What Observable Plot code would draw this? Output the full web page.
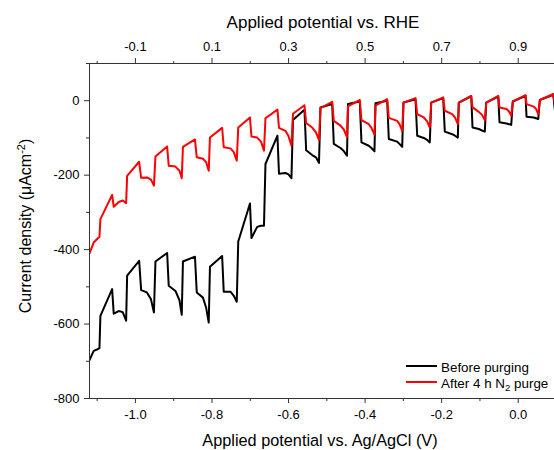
<!DOCTYPE html>
<html><head><meta charset="utf-8">
<script src="https://cdn.jsdelivr.net/npm/d3@7"></script>
<script src="https://cdn.jsdelivr.net/npm/@observablehq/plot@0.6"></script>
<style>
body{margin:0;background:#fff}
#wrap{position:relative;width:554px;height:450px;overflow:hidden;background:#fff}
#wrap svg{display:block}
#legend{position:absolute;left:0;top:0}
</style>
</head><body><div id="wrap"></div>
<script>
// Applied potential vs. Ag/AgCl (V)
const potential = [
 -1.120, -1.109, -1.0975, -1.094,
 -1.0915, -1.0609, -1.0567, -1.0436, -1.0332, -1.0243,
 -1.0217, -0.9903, -0.9851, -0.9700, -0.9595, -0.9517,
 -0.9477, -0.9172, -0.9130, -0.8955, -0.8850, -0.8790,
 -0.8759, -0.8445, -0.8398, -0.8236, -0.8153, -0.8085,
 -0.8053, -0.7735, -0.7693, -0.7518, -0.7431, -0.7353,
 -0.7314, -0.7008, -0.6969, -0.6820, -0.6720, -0.6642,
 -0.6603, -0.6290, -0.6250, -0.6080, -0.6002, -0.5924,
 -0.5885, -0.5584, -0.5540, -0.5383, -0.5284, -0.5205,
 -0.5166, -0.4860, -0.4818, -0.4643, -0.4552, -0.4473,
 -0.4447, -0.4139, -0.4095, -0.3904, -0.3834, -0.3755,
 -0.3729, -0.3423, -0.3381, -0.3162, -0.3102, -0.3031,
 -0.2997, -0.2684, -0.2639, -0.2467, -0.2383, -0.2310,
 -0.2273, -0.1960, -0.1918, -0.1725, -0.1652, -0.1578,
 -0.1552, -0.1228, -0.1194, -0.1030, -0.0946, -0.0873,
 -0.0836, -0.0522, -0.0489, -0.0306, -0.0241, -0.0183,
 -0.0141, 0.0191, 0.0217, 0.0408, 0.0465, 0.0523,
 0.0565, 0.0915, 0.0962
];
// Current density (µA cm^-2), before purging
const beforePurging = [
 -697, -672, -667, -665,
 -578, -506, -572, -565, -568, -591,
 -470, -430, -509, -515, -533, -569,
 -432, -409, -497, -511, -536, -575,
 -432, -419, -515, -529, -556, -596,
 -446, -417, -513, -513, -524, -540,
 -378, -276, -369, -339, -336, -336,
 -170, -94, -196, -194, -198, -208,
 -52, -24, -133, -146, -152, -167,
 -18, -9, -116, -127, -136, -148,
 -9, -2, -112, -121, -127, -136,
 -7, 0, -103, -110, -116, -124,
 -5, 4, -94, -100, -105, -112,
 -5, 7, -83, -90, -94, -99,
 -5, 12, -72, -76, -80, -83,
 -5, 11, -58, -61, -63, -65,
 -2, 13, -43, -45, -47, -49,
 2, 16, -30
];
// Current density (µA cm^-2), after 4 h N2 purge
const afterPurge = [
 -410, -381, -369, -366,
 -318, -253, -285, -272, -268, -275,
 -202, -164, -207, -206, -212, -228,
 -150, -123, -175, -177, -188, -208,
 -124, -104, -152, -156, -165, -188,
 -99, -73, -125, -128, -138, -161,
 -72, -45, -96, -99, -110, -134,
 -47, -24, -73, -81, -95, -121,
 -35, -12, -60, -72, -85, -106,
 -20, -3, -54, -67, -78, -98,
 -15, 2, -52, -63, -73, -91,
 -13, 4, -46, -54, -63, -81,
 -5, 7, -36, -45, -55, -72,
 -5, 9, -27, -36, -45, -63,
 -5, 13, -18, -30, -38, -52,
 -5, 13, -18, -22, -29, -40,
 -2, 15, -9, -16, -22, -36,
 2, 18, -10
];
const seriesNames = ["Before purging", "After 4 h N2 purge"];
const seriesColors = ["#000000", "#ff0000"];
const xTicks = [-1.0, -0.8, -0.6, -0.4, -0.2, 0.0];
const xMinorTicks = [-1.1, -0.9, -0.7, -0.5, -0.3, -0.1, 0.1];
const rheTicks = [-0.1, 0.1, 0.3, 0.5, 0.7, 0.9];
const rheMinorTicks = [-0.2, 0.0, 0.2, 0.4, 0.6, 0.8, 1.0];
const rheOffset = 0.9; // RHE = Ag/AgCl + 0.9 V
const yTicks = [0, -200, -400, -600, -800];
const yMinorTicks = [100, -100, -300, -500, -700];

const before = potential.map((v, i) => ({V: v, J: beforePurging[i]}));
const after = potential.map((v, i) => ({V: v, J: afterPurge[i]}));

const fmt1 = d => { const s = d.toFixed(1); return s === "-0.0" ? "0.0" : s; };

const chart = Plot.plot({
  width: 554, height: 450,
  marginTop: 63, marginBottom: 52, marginLeft: 89, marginRight: -2,
  style: {fontFamily: "'Liberation Sans', Arial, sans-serif", fontSize: "13px", background: "#fff", color: "#000", overflow: "hidden"},
  x: {domain: [-1.12, 0.1], label: null},
  y: {domain: [-800, 100], label: null},
  marks: [
    Plot.line(before, {x: "V", y: "J", stroke: seriesColors[0], strokeWidth: 2, clip: true}),
    Plot.line(after, {x: "V", y: "J", stroke: seriesColors[1], strokeWidth: 2, clip: true}),
    Plot.frame({stroke: "#333", strokeWidth: 1}),
    Plot.axisX({anchor: "bottom", ticks: xTicks, tickFormat: fmt1, tickSize: 5, tickPadding: 6, stroke: "#333", fill: "#000", fontSize: 13, label: null}),
    Plot.axisX({anchor: "bottom", ticks: xMinorTicks, tickFormat: () => "", tickSize: 3, stroke: "#333", label: null}),
    Plot.axisX({anchor: "top", ticks: rheTicks.map(r => +(r - rheOffset).toFixed(3)), tickFormat: d => fmt1(d + rheOffset), tickSize: 6, tickPadding: 7, stroke: "#333", fill: "#000", fontSize: 13, label: null}),
    Plot.axisX({anchor: "top", ticks: rheMinorTicks.map(r => +(r - rheOffset).toFixed(3)), tickFormat: () => "", tickSize: 3, stroke: "#333", label: null}),
    Plot.axisY({anchor: "left", ticks: yTicks, tickFormat: d => String(d), tickSize: 5, tickPadding: 5, stroke: "#333", fill: "#000", fontSize: 13, label: null}),
    Plot.axisY({anchor: "left", ticks: yMinorTicks, tickFormat: () => "", tickSize: 3, stroke: "#333", label: null}),
    Plot.text(["Applied potential vs. Ag/AgCl (V)"], {frameAnchor: "bottom", textAnchor: "middle", dy: 42, dx: -3, fontSize: 16.3, fill: "#000", lineAnchor: "middle"}),
    Plot.text(["Applied potential vs. RHE"], {frameAnchor: "top", textAnchor: "middle", dy: -41, fontSize: 17, fill: "#000", lineAnchor: "middle"}),
    Plot.text(["Current density (μAcm-2)"], {frameAnchor: "left", textAnchor: "middle", dx: -64, dy: -5, rotate: -90, fontSize: 16, fill: "#000", lineAnchor: "middle"})
  ]
});
document.getElementById("wrap").appendChild(chart);

// superscript in y label
d3.select(chart).selectAll("text").each(function() {
  const t = d3.select(this);
  if (this.textContent === "Current density (μAcm-2)") {
    t.text(null);
    t.append("tspan").text("Current density (μAcm");
    t.append("tspan").attr("dy", -6).attr("font-size", 11).text("-2");
    t.append("tspan").attr("dy", 6).text(")");
  }
});

// legend
const svgL = d3.select("#wrap").append("svg").attr("id", "legend").attr("width", 554).attr("height", 450)
  .style("font-family", "'Liberation Sans', Arial, sans-serif").style("font-size", "13.4px");
const legY = [366, 382];
seriesNames.forEach((name, i) => {
  svgL.append("line").attr("x1", 406).attr("x2", 437).attr("y1", legY[i]).attr("y2", legY[i])
    .attr("stroke", seriesColors[i]).attr("stroke-width", 2);
  const t = svgL.append("text").attr("x", 441).attr("y", legY[i] + 5.5).attr("fill", "#000");
  if (name.endsWith("N2 purge")) {
    t.append("tspan").text("After 4 h N");
    t.append("tspan").attr("dy", 3).attr("font-size", 9.5).text("2");
    t.append("tspan").attr("dy", -3).text(" purge");
  } else t.text(name);
});
</script>
</body></html>
